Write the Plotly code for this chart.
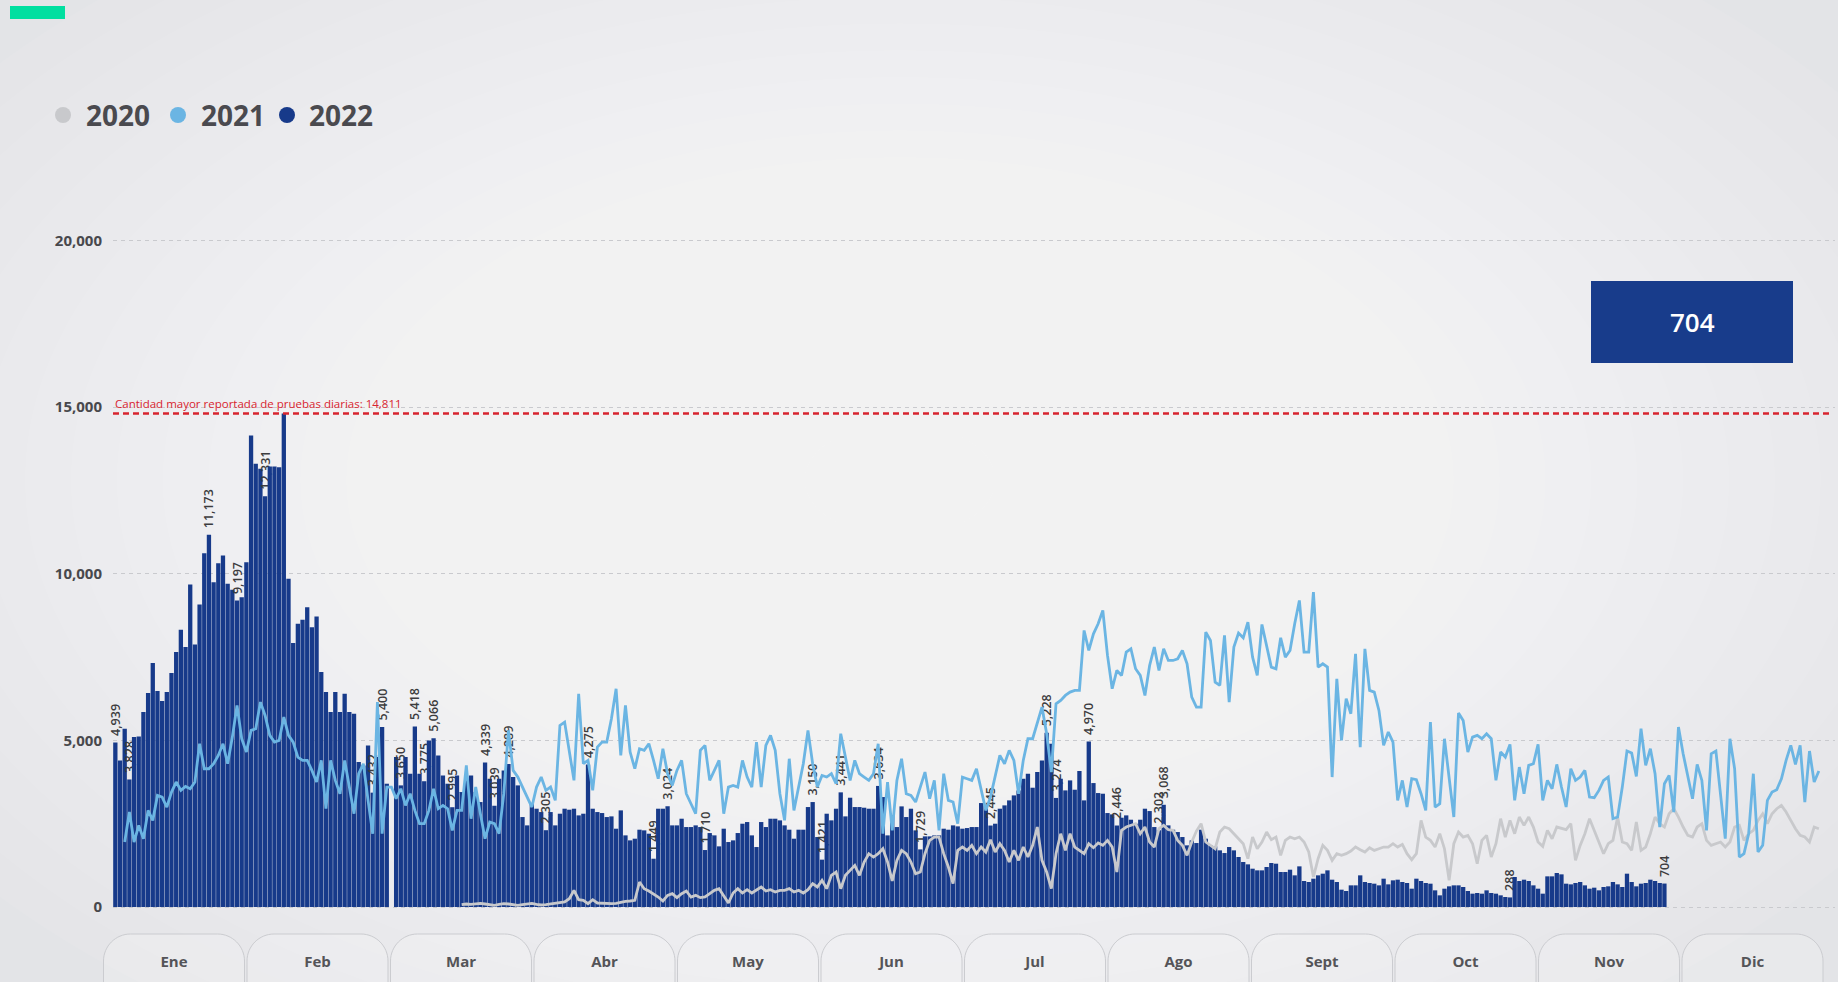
import plotly.graph_objects as go

# ---------------- data ----------------
months = ["Ene", "Feb", "Mar", "Abr", "May", "Jun", "Jul", "Ago", "Sept", "Oct", "Nov", "Dic"]
years = ["2020", "2021", "2022"]
year_colors = ["#c8c9cc", "#6bb5e3", "#173a8a"]

# daily tests 2022 (from Jan 1)
tests_2022 = [
    4939, 4400, 5350, 3828, 5100, 5120, 5850, 6420, 7320, 6480,
    6180, 6450, 7020, 7650, 8320, 7800, 9680, 7880, 9080, 10620,
    11173, 9750, 10320, 10550, 9700, 9520, 9197, 9300, 10350, 14150,
    13300, 13150, 12331, 13220, 13220, 13200, 14811, 9850, 7920, 8500,
    8620, 9000, 8400, 8720, 7050, 6450, 5850, 6450, 5850, 6400,
    5850, 5800, 4350, 4250, 4850, 3432, 4500, 5400, 3700, 0,
    4500, 3650, 4500, 4000, 5418, 4000, 3775, 5000, 5066, 4550,
    3950, 3700, 2995, 3950, 3450, 3800, 3950, 3450, 3150, 4339,
    3850, 3039, 3850, 4100, 4289, 3900, 3650, 2700, 2450, 3100,
    2950, 2850, 2305, 2850, 2450, 2800, 2950, 2920, 2950, 2750,
    2800, 4275, 2950, 2850, 2820, 2700, 2720, 2350, 2900, 2150,
    2000, 2050, 2320, 2300, 2200, 1449, 2950, 2950, 3024, 2450,
    2450, 2650, 2400, 2400, 2450, 2400, 1710, 2220, 2150, 1820,
    2350, 1950, 2000, 2220, 2500, 2550, 2150, 1800, 2550, 2400,
    2650, 2650, 2600, 2450, 2320, 2050, 2320, 2320, 3000, 3150,
    2100, 1421, 2800, 2600, 2950, 3441, 2720, 3280, 3000, 3000,
    2980, 2950, 2950, 3634, 3300, 2150, 2750, 2400, 3020, 2700,
    2950, 2300, 1729, 2120, 2120, 2150, 2150, 2350, 2320, 2450,
    2420, 2350, 2370, 2400, 2400, 3120, 3050, 2445, 2500, 2950,
    3050, 3200, 3350, 3500, 3850, 4000, 3580, 4050, 4400, 5228,
    4900, 3274, 3850, 3500, 3800, 3520, 4080, 3200, 4970, 3720,
    3420, 3400, 2820, 2780, 2446, 2680, 2750, 2620, 2500, 2620,
    2950, 2880, 2400, 2302, 3068, 2450, 2320, 2250, 2100, 1850,
    2000, 1920, 2320, 2050, 1850, 1820, 1700, 1620, 1800, 1700,
    1500, 1350, 1280, 1150, 1100, 1100, 1200, 1320, 1300, 1050,
    1050, 1120, 950, 1220, 780, 750, 850, 950, 1000, 1100,
    820, 750, 520, 480, 650, 650, 950, 750, 720, 700,
    650, 850, 680, 800, 820, 750, 720, 550, 850, 780,
    720, 700, 500, 350, 550, 620, 650, 650, 600, 480,
    400, 420, 400, 500, 420, 400, 350, 300, 288, 900,
    780, 820, 780, 650, 550, 400, 920, 920, 1020, 980,
    700, 680, 720, 750, 650, 550, 580, 500, 600, 620,
    750, 680, 600, 1000, 750, 620, 700, 720, 820, 780,
    720, 704,
]
# days of 2022 whose value is written on the bar
labelled_days_2022 = [1, 4, 21, 27, 33, 56, 58, 62, 65, 67, 69, 73, 80, 82, 85, 93,
                      102, 116, 119, 127, 150, 152, 156, 164, 173, 188, 200, 202,
                      209, 215, 224, 225, 299, 332]

# daily tests 2021 (starts Jan 3)
start_2021 = 3
tests_2021 = [
    1950, 2850, 1950, 2450, 2050, 2900, 2600, 3350, 3300, 3000,
    3450, 3750, 3500, 3620, 3550, 3750, 4900, 4150, 4150, 4300,
    4550, 4900, 4300, 5100, 6050, 5050, 4650, 5300, 5350, 6150,
    5750, 5150, 4950, 5000, 5700, 5150, 4950, 4500, 4400, 4400,
    4100, 3750, 4400, 2950, 4400, 3800, 3400, 4400, 3600, 2800,
    4000, 4300, 3200, 2200, 6150, 2200, 3600, 3600, 3250, 3550,
    3050, 3400, 2900, 2500, 2500, 2900, 3550, 2950, 3050, 2950,
    2300, 2900, 2900, 4250, 2650, 3600, 2800, 2050, 2550, 2500,
    2200, 3400, 5300, 4100, 3900, 3600, 3300, 3000, 3600, 3900,
    3500, 3600, 3200, 5450, 5550, 4700, 3800, 6400, 4300, 4400,
    3500, 4800, 4950, 4950, 5650, 6550, 4550, 6050, 4650, 4150,
    4750, 4700, 4900, 4400, 3850, 4750, 4000, 3650, 4100, 4400,
    3400, 3100, 2800, 4700, 4850, 3800, 4100, 4400, 2800, 3600,
    3650, 3600, 4400, 3900, 3600, 4950, 3600, 4850, 5150, 4700,
    3400, 2600, 4450, 2900, 3600, 4300, 5300, 4300, 3600, 3950,
    3900, 4000, 3700, 5200, 4500, 3800, 4400, 4000, 3900, 3800,
    4000, 4900, 2200, 3750, 2300, 3800, 4450, 3400, 3350, 3150,
    3600, 4050, 3250, 3800, 2300, 4000, 3200, 3150, 2500, 3900,
    3850, 3800, 4150, 3500, 2900, 3300, 3900, 4550, 4300, 4700,
    4400, 3400, 4400, 5050, 5050, 5500, 6000, 5200, 4050, 6100,
    6200, 6350, 6450, 6500, 6500, 8300, 7700, 8200, 8500, 8900,
    7550, 6550, 7100, 6950, 7650, 7750, 7150, 6950, 6350, 7250,
    7800, 7100, 7750, 7400, 7400, 7450, 7700, 7300, 6300, 6000,
    6000, 8250, 8000, 6750, 6650, 8150, 6150, 7800, 8220, 8080,
    8550, 7500, 6950, 8480, 7800, 7200, 7150, 8080, 7500, 7700,
    8500, 9200, 7650, 7650, 9450, 7200, 7300, 7200, 3900, 6850,
    5000, 6250, 5800, 7600, 4800, 7750, 6500, 6450, 5900, 4850,
    5250, 4950, 3200, 3800, 3000, 3850, 3820, 3400, 2900, 5550,
    3000, 3100, 5050, 3900, 2700, 5820, 5600, 4650, 5100, 5150,
    5050, 5200, 5050, 3800, 4650, 4500, 4880, 3200, 4200, 3400,
    4250, 4300, 4880, 3200, 3800, 3550, 4280, 3600, 3000, 4150,
    3800, 3900, 4100, 3300, 3280, 3500, 3800, 3900, 2650, 2700,
    3600, 4680, 4620, 3920, 5350, 4250, 4750, 4000, 2400, 3700,
    3950, 2850, 5400, 4600, 3900, 3250, 4280, 3800, 2300, 4600,
    4680, 3450, 2050, 5050, 4150, 1500, 1600, 2200, 4000, 1650,
    1850, 3200, 3450, 3520, 3850, 4400, 4850, 4280, 4850, 3150,
    4680, 3750, 4080,
]

# daily tests 2020 (starts Mar 15)
start_2020 = 75
tests_2020 = [
    70, 90, 80, 100, 110, 90, 60, 50, 80, 100,
    90, 60, 50, 70, 90, 110, 80, 60, 70, 90,
    110, 130, 150, 250, 500, 220, 200, 100, 220, 120,
    110, 120, 100, 110, 150, 170, 180, 200, 750, 550,
    480, 400, 300, 180, 350, 400, 280, 400, 480, 300,
    350, 280, 300, 400, 500, 550, 320, 120, 420, 550,
    420, 520, 420, 520, 600, 480, 520, 450, 500, 500,
    550, 450, 500, 420, 520, 700, 600, 800, 550, 950,
    1050, 550, 950, 1100, 1250, 950, 1350, 1600, 1500, 1600,
    1750, 1350, 780, 1400, 1700, 1600, 1350, 1000, 1050, 1600,
    2000, 2100, 2100, 1600, 1200, 700, 1700, 1800, 1700, 1850,
    1600, 1800, 1650, 2020, 1650, 1900, 1700, 1350, 1700, 1400,
    1800, 1500, 1850, 2400, 1400, 1050, 550, 1600, 2200, 1700,
    2200, 1800, 1700, 1600, 1900, 1780, 1920, 1850, 2000, 1800,
    1050, 2300, 2400, 2450, 2500, 2200, 2400, 1950, 1800, 2350,
    2450, 2320, 2300, 2000, 1850, 1550, 1950, 2280, 2500, 1950,
    1850, 1750, 2250, 2400, 2350, 2200, 2050, 1900, 1450, 2100,
    1750, 1950, 2250, 2020, 2100, 1550, 2000, 2100, 2050, 2100,
    1950, 1650, 900, 1450, 1850, 1700, 1400, 1600, 1550, 1600,
    1680, 1800, 1720, 1650, 1780, 1700, 1750, 1800, 1800, 1900,
    1800, 1880, 1600, 1420, 1600, 2600, 2100, 2000, 1800, 2200,
    1750, 800, 1900, 2250, 2100, 2150, 1900, 1300, 2000, 2150,
    1500, 1900, 2650, 2100, 2600, 2200, 2700, 2450, 2700, 2400,
    1950, 1820, 2300, 2050, 2400, 2350, 2320, 2500, 1400, 1850,
    2200, 2650, 2300, 1950, 1600, 1900, 2000, 2700, 1950, 1900,
    1700, 2550, 1700, 1800, 2200, 2700, 2500, 2400, 2800, 2950,
    2700, 2400, 2150, 2100, 2400, 2500, 2000, 1850, 1900, 1950,
    1800, 1950, 2400, 2450, 2000, 2200, 2300, 2600, 2800, 2500,
    2800, 2950, 3050, 2850, 2600, 2350, 2150, 2100, 1950, 2400,
    2350,
]

y_ticks = [0, 5000, 10000, 15000, 20000]
peak_label = "Cantidad mayor reportada de pruebas diarias: "

# ---------------- geometry helpers (pixels -> paper) ----------------
W, H = 1838, 982
ML, MR, MT, MB = 113, 3, 174, 70
PW, PH = W - ML - MR, H - MT - MB


def px(x):
    return (x - ML) / PW


def py(y):
    return (H - MB - y) / PH


days_2022 = list(range(1, len(tests_2022) + 1))
days_2021 = list(range(start_2021, start_2021 + len(tests_2021)))
days_2020 = list(range(start_2020, start_2020 + len(tests_2020)))
# leading no-break spaces lift the rotated value a little above its bar
bar_text = ["\u00a0\u00a0" + f"{v:,}" if d in labelled_days_2022 else ""
            for d, v in zip(days_2022, tests_2022)]

fig = go.Figure()
fig.add_trace(go.Bar(
    x=days_2022, y=tests_2022, name="2022",
    marker=dict(color=year_colors[2], line=dict(width=0)),
    text=bar_text, textposition="outside", textangle=-90, constraintext="none",
    cliponaxis=False,
    textfont=dict(family="Open Sans", size=12.5, color="#3c3c3e", weight=600),
    hoverinfo="x+y",
))
fig.add_trace(go.Scatter(
    x=days_2020, y=tests_2020, name="2020", mode="lines",
    line=dict(color=year_colors[0], width=2.8),
))
fig.add_trace(go.Scatter(
    x=days_2021, y=tests_2021, name="2021", mode="lines",
    line=dict(color=year_colors[1], width=2.8),
))
# invisible trace carrying the month axis
fig.add_trace(go.Scatter(
    x=months, y=[0] * len(months), xaxis="x2", mode="markers",
    marker=dict(opacity=0), hoverinfo="skip", showlegend=False,
))

shapes = []
# soft radial light in background (many faint layers -> smooth gradient)
n_layers = 24
for k in range(n_layers):
    f = 1 - k / n_layers
    rx, ry = 1100 * f + 50, 640 * f + 30
    cx, cy = 900, 480
    shapes.append(dict(type="circle", xref="paper", yref="paper", layer="below",
                       x0=px(cx - rx), x1=px(cx + rx), y0=py(cy + ry), y1=py(cy - ry),
                       fillcolor="rgb(255,255,255)", opacity=0.07, line=dict(width=0)))

# month pills
for i in range(len(months)):
    cx = 174 + 143.5 * i
    l, r, t, b, rr = cx - 70.5, cx + 70.5, 934, 1000, 27
    path = (f"M {px(l)} {py(b)} L {px(l)} {py(t + rr)} "
            f"C {px(l)} {py(t + rr * 0.45)} {px(l + rr * 0.45)} {py(t)} {px(l + rr)} {py(t)} "
            f"L {px(r - rr)} {py(t)} "
            f"C {px(r - rr * 0.45)} {py(t)} {px(r)} {py(t + rr * 0.45)} {px(r)} {py(t + rr)} "
            f"L {px(r)} {py(b)} Z")
    shapes.append(dict(type="path", xref="paper", yref="paper", layer="below", path=path,
                       fillcolor="rgba(255,255,255,0.2)", line=dict(color="#cbccd0", width=1)))

peak = max(tests_2022)
shapes.append(dict(type="line", xref="paper", yref="y", x0=0, x1=px(1829), y0=peak, y1=peak,
                   line=dict(color="#d8242f", width=2.5, dash="6px,4px")))
# green tag top-left
shapes.append(dict(type="rect", xref="paper", yref="paper", x0=px(10), x1=px(65), y0=py(19), y1=py(6),
                   fillcolor="#00dfa0", line=dict(width=0)))
# last value box
shapes.append(dict(type="rect", xref="paper", yref="paper", x0=px(1591), x1=px(1793), y0=py(363), y1=py(281),
                   fillcolor="#183c8b", line=dict(width=0)))
# legend dots
legend_dot_x = [63, 178, 287]
legend_text_x = [84, 199, 307]
for xx, col in zip(legend_dot_x, year_colors):
    shapes.append(dict(type="circle", xref="paper", yref="paper",
                       x0=px(xx - 8), x1=px(xx + 8), y0=py(123), y1=py(107),
                       fillcolor=col, line=dict(width=0)))

annotations = []
for xx, yr in zip(legend_text_x, years):
    annotations.append(dict(xref="paper", yref="paper", x=px(xx), y=py(115), text=yr,
                            xanchor="left", yanchor="middle", showarrow=False,
                            font=dict(family="Open Sans", size=28, color="#4a4a4f", weight="bold")))
annotations.append(dict(xref="paper", yref="y", x=0, y=peak, yshift=1,
                        text=f"{peak_label}{peak:,}", xanchor="left", yanchor="bottom", showarrow=False,
                        font=dict(family="Open Sans", size=11.5, color="#d8242f")))
annotations.append(dict(xref="paper", yref="paper", x=px(1692), y=py(322), text=f"{tests_2022[-1]:,}",
                        xanchor="center", yanchor="middle", showarrow=False,
                        font=dict(family="Open Sans", size=26, color="#ffffff", weight=600)))

fig.update_layout(
    width=W, height=H,
    margin=dict(l=ML, r=MR, t=MT, b=MB, pad=0),
    paper_bgcolor="#e3e4e7", plot_bgcolor="rgba(0,0,0,0)",
    showlegend=False, bargap=0.08,
    shapes=shapes, annotations=annotations,
    xaxis=dict(range=[0.5, 0.5 + PW / 4.68], showticklabels=False, showgrid=False,
               zeroline=False, showline=False, fixedrange=True),
    xaxis2=dict(type="category", range=[-0.425, 11.575], anchor="free", position=0,
                overlaying="x", showgrid=False, zeroline=False, showline=False,
                ticks="outside", ticklen=36, tickcolor="rgba(0,0,0,0)",
                tickfont=dict(family="Open Sans", size=15, color="#545458", weight="bold")),
    yaxis=dict(range=[-150, 22000], tickvals=y_ticks, tickformat=",d",
               showgrid=True, gridcolor="#c9cace", griddash="4px,4px", gridwidth=1,
               zeroline=False, showline=False,
               ticks="outside", ticklen=7, tickcolor="rgba(0,0,0,0)",
               tickfont=dict(family="Open Sans", size=15, color="#48484c", weight="bold")),
    font=dict(family="Open Sans"),
)

fig.write_html(
    "out.html",
    config={"displayModeBar": False},
    post_script="document.body.style.margin='0';document.body.style.overflow='hidden';",
)
